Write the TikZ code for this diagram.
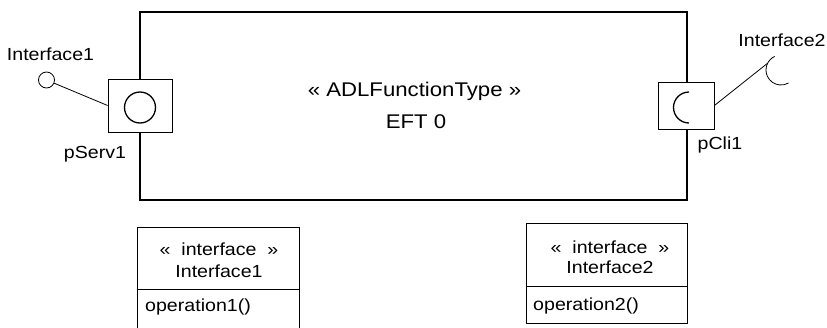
\documentclass[tikz,border=0pt]{standalone}
\usepackage{fontspec}
\setmainfont{Liberation Sans}[FakeStretch=1.12]
\begin{document}
\begin{tikzpicture}[x=1pt,y=-1pt,
  font=\fontsize{17.5}{21}\selectfont,
  mainbox/.style={draw, line width=1.6pt, minimum width=547pt, minimum height=188pt, inner sep=0pt},
  portbox/.style={draw, fill=white, line width=0.8pt, inner sep=0pt},
  ifbox/.style={draw, line width=0.8pt, inner sep=0pt},
  lbl/.style={anchor=base, inner sep=0pt},
  lblw/.style={anchor=base west, inner sep=0pt},
  big/.style={font=\fontsize{19.8}{24}\selectfont},
  conn/.style={line width=0.8pt},
  symb/.style={line width=1.3pt}]
\useasboundingbox (0,0) rectangle (827,327);

% main component
\node[mainbox] (eft) at (413.5,106) {};
\node[lbl, big] (title) at (414.5,96) {« ADLFunctionType »};
\node[lbl, big] (name) at (416,128) {EFT 0};

% provided port
\node[portbox, minimum width=64pt, minimum height=53pt] (pserv) at (140,105.5) {};
\node[draw, circle, symb, minimum size=31pt, inner sep=0pt] (prov) at (140,107.5) {};
\node[draw, circle, conn, minimum size=16pt, inner sep=0pt] (if1) at (46.5,80) {};
\draw[conn] (if1) -- (pserv.west);
\node[lbl] (lif1) at (50.5,60) {Interface1};
\node[lbl] (lps) at (95,158.3) {pServ1};

% required port
\node[portbox, minimum width=56pt, minimum height=47pt] (pcli) at (686,105.5) {};
\coordinate (reqc) at (689,107.5);
\draw[symb] ([shift={(90:15.5pt)}]reqc) arc[start angle=90, end angle=270, radius=15.5pt];
\coordinate (sockc) at (781,70);
\coordinate (sock) at ([shift={(153:15pt)}]sockc);
\draw[conn] (pcli.east) -- (sock);
\draw[conn] ([shift={(115:15pt)}]sockc) arc[start angle=115, end angle=300, radius=15pt];
\node[lbl] (lif2) at (782,46.5) {Interface2};
\node[lbl] (lpc) at (720,149.5) {pCli1};

% interface 1 class
\node[ifbox, minimum width=162pt, minimum height=101pt] (ib1) at (218,277.5) {};
\draw[conn] (ib1.west |- 0,289) -- (ib1.east |- 0,289);
\node[lbl] (st1) at (219,255) {«~~interface~~»};
\node[lbl] (n1) at (219,277) {Interface1};
\node[lblw] (op1) at (145,311) {operation1()};

% interface 2 class
\node[ifbox, minimum width=161pt, minimum height=100pt] (ib2) at (606.5,273) {};
\draw[conn] (ib2.west |- 0,286) -- (ib2.east |- 0,286);
\node[lbl] (st2) at (610,253) {«~~interface~~»};
\node[lbl] (n2) at (610,273) {Interface2};
\node[lblw] (op2) at (533,310) {operation2()};
\end{tikzpicture}
\end{document}
